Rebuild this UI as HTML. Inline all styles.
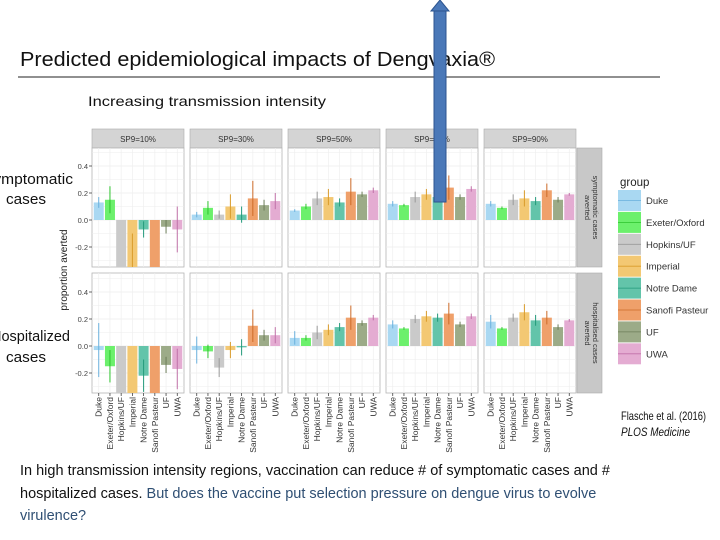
<!DOCTYPE html>
<html><head><meta charset="utf-8"><style>
body{margin:0;width:720px;height:540px;overflow:hidden;background:#fff;font-family:"Liberation Sans",sans-serif;}
svg{position:absolute;left:0;top:0}
</style></head><body>
<svg id="s" width="720" height="540">
<text x="20" y="66" font-size="20" textLength="475" lengthAdjust="spacingAndGlyphs" fill="#111">Predicted epidemiological impacts of Dengvaxia®</text>
<line x1="18" y1="77" x2="660" y2="77" stroke="#222" stroke-width="1"/>
<text x="88" y="106" font-size="14" textLength="238" lengthAdjust="spacingAndGlyphs" fill="#111">Increasing transmission intensity</text>
<text x="-17" y="184" font-size="15" textLength="90" lengthAdjust="spacingAndGlyphs" fill="#111">Symptomatic</text>
<text x="6" y="204" font-size="15" textLength="40" lengthAdjust="spacingAndGlyphs" fill="#111">cases</text>
<text x="-9" y="341" font-size="15" textLength="79" lengthAdjust="spacingAndGlyphs" fill="#111">Hospitalized</text>
<text x="6" y="362" font-size="15" textLength="40" lengthAdjust="spacingAndGlyphs" fill="#111">cases</text>
<text transform="translate(67,270) rotate(-90)" font-size="10" text-anchor="middle" fill="#222">proportion averted</text>
<g id="chart"></g>
<text x="621" y="420" font-size="12" textLength="85" lengthAdjust="spacingAndGlyphs" fill="#111">Flasche et al. (2016)</text>
<text x="621" y="436" font-size="12" textLength="69" lengthAdjust="spacingAndGlyphs" font-style="italic" fill="#111">PLOS Medicine</text>
<text font-size="14.5" fill="#111">
<tspan x="20" y="475">In high transmission intensity regions, vaccination can reduce # of symptomatic cases and #</tspan>
<tspan x="20" y="498">hospitalized cases. <tspan fill="#2f4f73">But does the vaccine put selection pressure on dengue virus to evolve</tspan></tspan>
<tspan x="20" y="520" fill="#2f4f73">virulence?</tspan></text>
<g>
<rect x="434" y="10" width="12" height="192" fill="#4a78b8" stroke="#2d5590" stroke-width="1"/>
<polygon points="431,11 440,0 449,11" fill="#4a78b8" stroke="#2d5590" stroke-width="1"/>
</g>
</svg>
<script>
const groups=["Duke","Exeter/Oxford","Hopkins/UF","Imperial","Notre Dame","Sanofi Pasteur","UF","UWA"];
const colors=["#a9d8f2","#6cf06c","#cacaca","#f3c873","#63c4aa","#efa06a","#9cab88","#e4acd2"];
const lineColors=["#6ab0dd","#2cc32c","#999","#d99b2a","#22997a","#cc6a28","#6c7c58","#c070a8"];
const panels=["SP9=10%","SP9=30%","SP9=50%","SP9=70%","SP9=90%"];
const yTicks=[-0.2,0.0,0.2,0.4];
const symp=[[0.13,0.15,-0.4,-0.4,-0.07,-0.4,-0.05,-0.07],[0.04,0.09,0.04,0.10,0.04,0.16,0.11,0.14],[0.07,0.10,0.16,0.17,0.13,0.21,0.19,0.22],[0.12,0.11,0.17,0.19,0.17,0.24,0.17,0.23],[0.12,0.09,0.15,0.16,0.14,0.22,0.15,0.19]];
const sympErr=[[0.04,0.1,0,0.3,0.06,0,0.05,0.17],[0.02,0.05,0.03,0.09,0.06,0.13,0.04,0.06],[0.01,0.02,0.05,0.06,0.03,0.1,0.02,0.02],[0.02,0.01,0.04,0.04,0.02,0.09,0.02,0.02],[0.02,0.01,0.04,0.06,0.03,0.05,0.02,0.01]];
const hosp=[[-0.03,-0.15,-0.4,-0.4,-0.22,-0.4,-0.14,-0.17],[-0.03,-0.04,-0.16,-0.03,-0.01,0.15,0.08,0.08],[0.06,0.06,0.10,0.12,0.14,0.21,0.17,0.21],[0.16,0.13,0.20,0.22,0.21,0.24,0.16,0.22],[0.18,0.13,0.21,0.25,0.19,0.21,0.14,0.19]];
const hospErr=[[0.2,0.12,0,0,0.12,0,0.06,0.15],[0.1,0.05,0.07,0.06,0.06,0.12,0.04,0.06],[0.05,0.02,0.05,0.04,0.03,0.09,0.02,0.02],[0.03,0.01,0.03,0.04,0.03,0.08,0.02,0.02],[0.05,0.01,0.03,0.06,0.04,0.05,0.02,0.01]];
const NS="http://www.w3.org/2000/svg";
const g=document.getElementById('chart');
function mk(tag,attrs,parent){const e=document.createElementNS(NS,tag);for(const k in attrs)e.setAttribute(k,attrs[k]);(parent||g).appendChild(e);return e;}
const panelX0=92,panelW=92,panelGap=6;
const rows=[{top:148,bottom:267,zero:220,data:symp,err:sympErr,strip:"symptomatic cases|averted",name:"symptomatic"},{top:273,bottom:393,zero:346,data:hosp,err:hospErr,strip:"hospitalised cases|averted",name:"hospitalised"}];
const unit=27/0.2;
function px(i,p){return panelX0+p*(panelW+panelGap)+(i+0.6)*(panelW/8.2);}
rows.forEach((r,ri)=>{
 const yS=v=>r.zero-v*unit;
 panels.forEach((pn,p)=>{
  const x0=panelX0+p*(panelW+panelGap);
  if(ri===0){
   const st=mk('rect',{x:x0,y:129,width:panelW,height:19,fill:'#d4d4d4',stroke:'#aaa','stroke-width':0.6});
   
   
   const t=mk('text',{x:x0+panelW/2,y:142,'font-size':8,'text-anchor':'middle',fill:'#333'});t.textContent=pn;
   
   
  }
  const bg=mk('rect',{x:x0,y:r.top,width:panelW,height:r.bottom-r.top,fill:'#fff',stroke:'#b5b5b5','stroke-width':0.8});
  
  
  for(let v=-0.3;v<0.55;v+=0.1){const y=yS(v);if(y<r.top||y>r.bottom)continue;mk('line',{x1:x0,x2:x0+panelW,y1:y,y2:y,stroke:'#ececec','stroke-width':Math.abs(Math.round(v*10))%2===0?0.8:0.5});}
  groups.forEach((gn,i)=>{mk('line',{x1:px(i,p),x2:px(i,p),y1:r.top,y2:r.bottom,stroke:'#efefef','stroke-width':0.7});});
  groups.forEach((gn,i)=>{
   const v=r.data[p][i];const yv=Math.min(Math.max(yS(v),r.top),r.bottom);
   const b=mk('rect',{x:px(i,p)-5,y:Math.min(yv,r.zero),width:10,height:Math.abs(yv-r.zero),fill:colors[i]});
   
   
   const e=r.err[p][i];
   if(e>0){const y1=Math.max(r.top,Math.min(r.bottom,yS(v+e))),y2=Math.max(r.top,Math.min(r.bottom,yS(v-e)));
    const el=mk('line',{x1:px(i,p),x2:px(i,p),y1:y1,y2:y2,stroke:lineColors[i],'stroke-width':1});
    
    }
   if(ri===1){const t=mk('text',{transform:`translate(${px(i,p)+3},397) rotate(-90)`,'font-size':8.5,'text-anchor':'end',fill:'#333'});t.textContent=gn;
    
    
    mk('line',{x1:px(i,p),x2:px(i,p),y1:393,y2:396,stroke:'#444','stroke-width':0.8});}
  });
 });
 yTicks.forEach(v=>{const y=yS(v);const t=mk('text',{x:88,y:y+3,'font-size':7.5,'text-anchor':'end',fill:'#444'});t.textContent=v.toFixed(1);
  
  
  mk('line',{x1:89,x2:92,y1:y,y2:y,stroke:'#444','stroke-width':0.8});});
 const sx=577;
 const rs=mk('rect',{x:sx,y:r.top,width:25,height:r.bottom-r.top,fill:'#c8c8c8',stroke:'#aaa','stroke-width':0.6});
 
 
 const parts=r.strip.split('|');const cy=(r.top+r.bottom)/2;
 parts.forEach((pt,k)=>{const t=mk('text',{transform:`translate(${sx+8-k*8+8},${cy}) rotate(90)`,'font-size':7.5,'text-anchor':'middle',fill:'#333'});t.textContent=pt;
  
  });
});
const lt=mk('text',{x:620,y:186,'font-size':11.5,fill:'#222'});lt.textContent='group';


groups.forEach((gn,i)=>{const y=190+i*21.9;
 const lg=mk('g',{});
 
 
 mk('rect',{x:618,y:y,width:23,height:21,fill:colors[i]},lg);
 mk('line',{x1:618,x2:641,y1:y+10.5,y2:y+10.5,stroke:lineColors[i],'stroke-width':0.8},lg);
 const t=mk('text',{x:646,y:y+14,'font-size':9.5,fill:'#333'},lg);t.textContent=gn;});
</script>
</body></html>
